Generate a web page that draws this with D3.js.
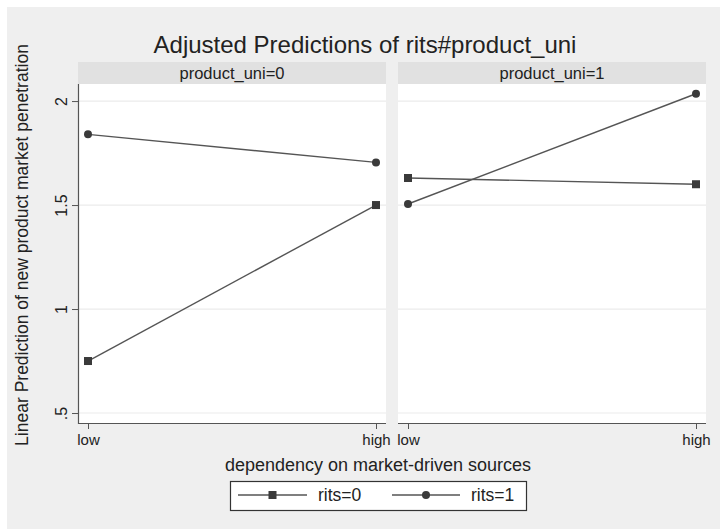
<!DOCTYPE html>
<html><head><meta charset="utf-8">
<script src="https://cdn.jsdelivr.net/npm/d3@7"></script>
<style>body{margin:0;background:#fff}svg{display:block}text{font-family:"Liberation Sans",Arial,Helvetica,sans-serif;fill:#222}</style>
</head><body><svg id="c" width="720" height="529"></svg>
<script>
const titleText = "Adjusted Predictions of rits#product_uni";
const yTitle = "Linear Prediction of new product market penetration";
const xTitle = "dependency on market-driven sources";
const categories = ["low", "high"];
const panels = ["product_uni=0", "product_uni=1"];
const seriesNames = ["rits=0", "rits=1"];
const rits0 = [[0.75, 1.50], [1.63, 1.60]];   // per panel: low, high
const rits1 = [[1.84, 1.705], [1.505, 2.035]];
const yTicks = [0.5, 1, 1.5, 2];
const yTickLabels = [".5", "1", "1.5", "2"];

const svg = d3.select("#c");
svg.append("rect").attr("width",720).attr("height",529).attr("fill","#fff");
svg.append("rect").attr("x",7).attr("y",7).attr("width",713).attr("height",522).attr("fill","#efefef");

const plotTop = 84, plotBottom = 423, stripTop = 62;
const y = d3.scaleLinear().domain([0.452, 2.082]).range([plotBottom, plotTop]);
const panelX = [[78, 386], [398, 706]];
const lineColor = "#555", markColor = "#3a3a3a";

svg.append("text").attr("x",365).attr("y",53).attr("text-anchor","middle")
  .style("font-size","24px").text(titleText);

const seriesData = [rits0, rits1];
panels.forEach((p, i) => {
  const [x0, x1] = panelX[i];
  const g = svg.append("g");
  g.append("rect").attr("x",x0).attr("y",stripTop).attr("width",x1-x0).attr("height",plotTop-stripTop).attr("fill","#e1e1e1");
  g.append("text").attr("x",(x0+x1)/2).attr("y",79).attr("text-anchor","middle").style("font-size","16.5px").text(p);
  g.append("rect").attr("x",x0).attr("y",plotTop).attr("width",x1-x0).attr("height",plotBottom-plotTop).attr("fill","#fff");
  // gridlines
  g.selectAll(".grid").data(yTicks).enter().append("line")
    .attr("x1",x0).attr("x2",x1).attr("y1",d=>y(d)).attr("y2",d=>y(d))
    .attr("stroke","#ebebeb").attr("stroke-width",1.2);
  const x = d3.scalePoint().domain(categories).range([x0+10, x1-10]);
  // x axis
  const xa = g.append("g").attr("transform",`translate(0,${plotBottom})`)
    .call(d3.axisBottom(x).tickSize(6).tickPadding(5));
  xa.select(".domain").remove();
  xa.selectAll(".tick line").attr("stroke",lineColor);
  xa.selectAll(".tick text").style("font-size","15px").style("font-family","Liberation Sans, Arial, sans-serif").attr("fill","#222");
  g.append("line").attr("x1",x0).attr("x2",x1).attr("y1",plotBottom+0.5).attr("y2",plotBottom+0.5).attr("stroke",lineColor).attr("stroke-width",1.2);
  if (i === 0) {
    g.append("line").attr("x1",x0+0.5).attr("x2",x0+0.5).attr("y1",plotTop).attr("y2",plotBottom+1).attr("stroke",lineColor).attr("stroke-width",1.2);
    const ya = g.append("g").attr("transform",`translate(${x0},0)`)
      .call(d3.axisLeft(y).tickValues(yTicks).tickSize(6).tickFormat((d,k)=>yTickLabels[k]));
    ya.select(".domain").remove();
    ya.selectAll(".tick line").attr("stroke",lineColor);
    ya.selectAll(".tick text").remove();
    ya.selectAll(".tick").append("text").attr("transform","translate(-11,0) rotate(-90)")
      .attr("text-anchor","middle").attr("fill","#222").style("font-size","16px")
      .style("font-family","Liberation Sans, Arial, sans-serif").text((d,k)=>yTickLabels[k]);
  }
  seriesData.forEach((s, si) => {
    const vals = s[i].map((v, k) => ({c: categories[k], v}));
    g.append("path").datum(vals)
      .attr("d", d3.line().x(d=>x(d.c)).y(d=>y(d.v)))
      .attr("fill","none").attr("stroke",lineColor).attr("stroke-width",1.4);
    if (si === 0) {
      g.selectAll(null).data(vals).enter().append("rect")
        .attr("x",d=>x(d.c)-4).attr("y",d=>y(d.v)-4).attr("width",8).attr("height",8).attr("fill",markColor);
    } else {
      g.selectAll(null).data(vals).enter().append("circle")
        .attr("cx",d=>x(d.c)).attr("cy",d=>y(d.v)).attr("r",4).attr("fill",markColor);
    }
  });
});

svg.append("text").attr("transform","translate(28,245) rotate(-90)").attr("text-anchor","middle")
  .style("font-size","17.5px").text(yTitle);
svg.append("text").attr("x",378).attr("y",471).attr("text-anchor","middle")
  .style("font-size","18px").text(xTitle);

// legend
const lg = svg.append("g");
lg.append("rect").attr("x",230.5).attr("y",481.5).attr("width",296).attr("height",29).attr("fill","#fff").attr("stroke","#333").attr("stroke-width",1.2);
const legendX = [[238, 307, 318], [392, 460, 471]];
seriesNames.forEach((n, i) => {
  const [a, b, t] = legendX[i];
  const cy = 495;
  lg.append("line").attr("x1",a).attr("x2",b).attr("y1",cy).attr("y2",cy).attr("stroke",lineColor).attr("stroke-width",1.4);
  const m = (a+b)/2;
  if (i === 0) lg.append("rect").attr("x",m-4).attr("y",cy-4).attr("width",8).attr("height",8).attr("fill",markColor);
  else lg.append("circle").attr("cx",m).attr("cy",cy).attr("r",4).attr("fill",markColor);
  lg.append("text").attr("x",t).attr("y",cy+6).style("font-size","17.5px").text(n);
});
</script></body></html>
